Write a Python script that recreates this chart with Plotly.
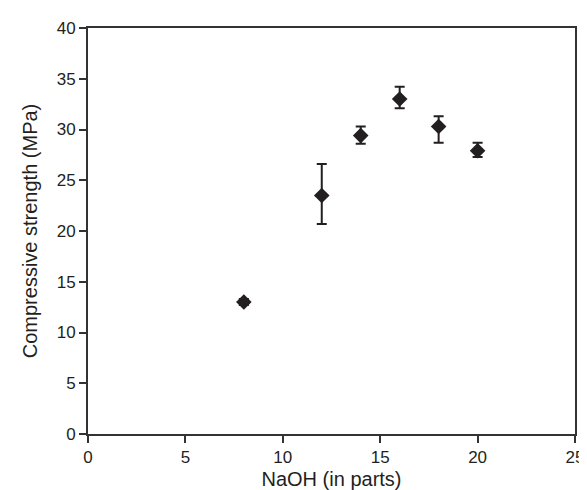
import plotly.graph_objects as go

naoh = [8, 12, 14, 16, 18, 20]
strength = [13.0, 23.5, 29.4, 33.0, 30.3, 27.9]
err_plus = [0.3, 3.1, 0.9, 1.2, 1.0, 0.8]
err_minus = [0.3, 2.8, 0.8, 0.9, 1.6, 0.6]

x_ticks = [0, 5, 10, 15, 20, 25]
y_ticks = [0, 5, 10, 15, 20, 25, 30, 35, 40]

dark = "#231f20"

fig = go.Figure(go.Scatter(
    x=naoh, y=strength, mode="markers",
    marker=dict(symbol="diamond", size=12, color=dark),
    error_y=dict(type="data", symmetric=False, array=err_plus, arrayminus=err_minus,
                 color=dark, thickness=2, width=5),
    showlegend=False,
))

font = dict(family="Liberation Sans, Arial, sans-serif", color="#231f20")
fig.update_layout(
    width=587, height=490,
    margin=dict(l=80, r=11, t=15, b=63),
    paper_bgcolor="white", plot_bgcolor="white",
    font=dict(size=17, **font),
)
fig.update_xaxes(
    range=[0, 25], tickvals=x_ticks, ticks="outside", ticklen=7, tickwidth=1.5,
    tickcolor="#333", showline=True, linecolor="#333", linewidth=2, mirror=True,
    showgrid=False, zeroline=False,
    title=dict(text="NaOH (in parts)", font=dict(size=20), standoff=6),
    tickfont=dict(size=17),
)
fig.update_yaxes(
    range=[0, 40], tickvals=y_ticks, ticks="outside", ticklen=7, tickwidth=1.5,
    tickcolor="#333", showline=True, linecolor="#333", linewidth=2, mirror=True,
    showgrid=False, zeroline=False,
    title=dict(text="Compressive strength (MPa)", font=dict(size=20), standoff=14),
    tickfont=dict(size=17),
)

fig.write_html("out.html")
